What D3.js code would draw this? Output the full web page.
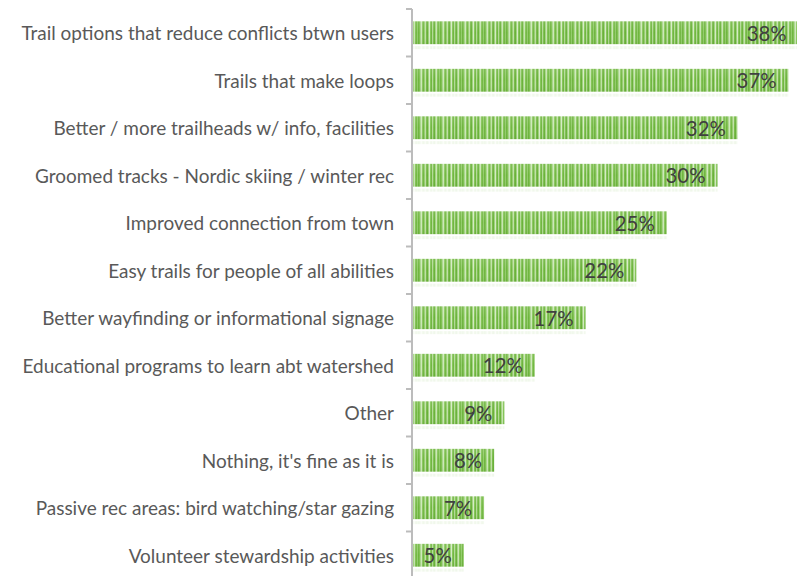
<!DOCTYPE html>
<html>
<head>
<meta charset="utf-8">
<script src="https://cdn.jsdelivr.net/npm/d3@7"></script>
<style>
  html, body { margin: 0; padding: 0; background: #fff; }
  svg { display: block; }
</style>
</head>
<body>
<svg id="chart" width="797" height="576"></svg>
<script>
const categories = [
  "Trail options that reduce conflicts btwn users",
  "Trails that make loops",
  "Better / more trailheads w/ info, facilities",
  "Groomed tracks - Nordic skiing / winter rec",
  "Improved connection from town",
  "Easy trails for people of all abilities",
  "Better wayfinding or informational signage",
  "Educational programs to learn abt watershed",
  "Other",
  "Nothing, it's fine as it is",
  "Passive rec areas: bird watching/star gazing",
  "Volunteer stewardship activities"
];
const values = [38, 37, 32, 30, 25, 22, 17, 12, 9, 8, 7, 5];

const svg = d3.select("#chart");
const W = 797, H = 576;
const axisX = 412;
const FONT = "Lato, 'Open Sans', sans-serif";

const y = d3.scaleBand().domain(categories).range([9, 579]).paddingInner(0.52).paddingOuter(0.26);
const x = d3.scaleLinear().domain([0, 40]).range([axisX + 1, axisX + 1 + 406]);

// striped pattern
const stripeColors = ["#6fb53f","#7fc151","#a9d68b","#cde8b9","#8cc861","#72b742","#98ce71","#bfe1a6",
                      "#7aba4b","#68b138","#9fd27b","#d4ebc3","#86c55a","#70b640","#b3da97","#80c153",
                      "#6ab23a","#a4d483","#c8e6b2","#84c457","#74b845","#93cc6b"];
const defs = svg.append("defs");
const pat = defs.append("pattern").attr("id", "stripes")
  .attr("patternUnits", "userSpaceOnUse")
  .attr("width", stripeColors.length).attr("height", 40);
pat.selectAll("rect").data(stripeColors).join("rect")
  .attr("x", (d, i) => i).attr("y", 0).attr("width", 1).attr("height", 40)
  .attr("fill", d => d);
const vg = defs.append("linearGradient").attr("id", "shade").attr("x1", 0).attr("y1", 0).attr("x2", 0).attr("y2", 1);
vg.append("stop").attr("offset", "0%").attr("stop-color", "#ffffff").attr("stop-opacity", 0.12);
vg.append("stop").attr("offset", "50%").attr("stop-color", "#ffffff").attr("stop-opacity", 0);
vg.append("stop").attr("offset", "100%").attr("stop-color", "#2f6f10").attr("stop-opacity", 0.08);

// reflections
svg.append("g").selectAll("rect").data(values).join("rect")
  .attr("x", x(0))
  .attr("y", (d, i) => y(categories[i]) + y.bandwidth() + 2)
  .attr("width", d => x(d) - x(0))
  .attr("height", 3)
  .attr("fill", "url(#stripes)")
  .attr("opacity", 0.1);

// bars
const bars = svg.append("g");
bars.selectAll("rect.bar").data(values).join("rect")
  .attr("class", "bar")
  .attr("x", x(0))
  .attr("y", (d, i) => y(categories[i]))
  .attr("width", d => x(d) - x(0))
  .attr("height", y.bandwidth())
  .attr("fill", "url(#stripes)");
bars.selectAll("rect.shade").data(values).join("rect")
  .attr("class", "shade")
  .attr("x", x(0))
  .attr("y", (d, i) => y(categories[i]))
  .attr("width", d => x(d) - x(0))
  .attr("height", y.bandwidth())
  .attr("fill", "url(#shade)");

// value labels
const vl = svg.append("g").selectAll("text").data(values).join("text")
  .attr("x", d => x(d) - 12)
  .attr("y", (d, i) => y(categories[i]) + y.bandwidth() / 2)
  .attr("text-anchor", "end")
  .attr("dominant-baseline", "central")
  .attr("font-family", FONT)
  .attr("font-size", 20)
  .attr("fill", "#404040")
  .text(d => d + "%");
{
  const w = vl.node().getComputedTextLength();
  if (w > 0) vl.attr("font-size", 20 * 40 / w);
}

// axis line and ticks
const step = y.step();
const ax = svg.append("g");
ax.append("line").attr("x1", axisX).attr("x2", axisX).attr("y1", 9).attr("y2", H)
  .attr("stroke", "#bcbcbc").attr("stroke-width", 2);
ax.selectAll("line.tick").data(d3.range(categories.length + 1)).join("line")
  .attr("class", "tick")
  .attr("x1", axisX - 6).attr("x2", axisX)
  .attr("y1", i => 9 + i * step).attr("y2", i => 9 + i * step)
  .attr("stroke", "#bcbcbc").attr("stroke-width", 2);

// category labels
const cl = svg.append("g").selectAll("text").data(categories).join("text")
  .attr("x", 394)
  .attr("y", d => y(d) + y.bandwidth() / 2)
  .attr("text-anchor", "end")
  .attr("dominant-baseline", "central")
  .attr("font-family", FONT)
  .attr("font-size", 16)
  .attr("fill", "#595959")
  .text(d => d);
{
  const w = cl.node().getComputedTextLength();
  if (w > 0) cl.attr("font-size", 16 * 373 / w);
}
</script>
</body>
</html>
